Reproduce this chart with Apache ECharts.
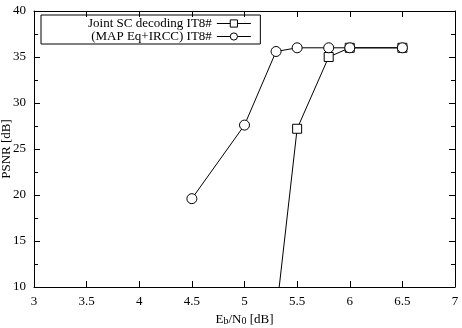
<!DOCTYPE html>
<html>
<head>
<meta charset="utf-8">
<script src="https://cdn.jsdelivr.net/npm/echarts@6/dist/echarts.min.js"></script>
<style>
  html, body { margin: 0; padding: 0; background: #fff; }
  #chart { width: 462px; height: 328px; }
</style>
</head>
<body>
<div id="chart"></div>
<script>
// Eb/N0 [dB] and PSNR [dB]
const seriesNames = ['Joint SC decoding IT8#', '(MAP Eq+IRCC) IT8#'];
const snrJoint = [5.3, 5.5, 5.8, 6, 6.5];
const psnrJoint = [7.0, 27.2, 35.0, 36.0, 36.0];
const snrMap = [4.5, 5, 5.3, 5.5, 5.8, 6, 6.5];
const psnrMap = [19.6, 27.6, 35.6, 36.0, 36.0, 36.0, 36.0];

const font = 'Liberation Serif';
const black = '#000';

function pairs(xs, ys) {
  return xs.map((x, i) => [x, ys[i]]);
}

function xAxisCfg(pos, showLabel) {
  return {
    type: 'value',
    position: pos,
    min: 3,
    max: 7,
    interval: 0.5,
    axisLine: { lineStyle: { color: black, width: 1 } },
    axisTick: { inside: true, length: 6, lineStyle: { color: black } },
    axisLabel: { show: showLabel, color: black, fontFamily: font, fontSize: 13, margin: 8 },
    splitLine: { show: false }
  };
}

function yAxisCfg(pos, showLabel) {
  return {
    type: 'value',
    position: pos,
    min: 10,
    max: 40,
    interval: 5,
    axisLine: { show: true, lineStyle: { color: black, width: 1 } },
    axisTick: { show: true, inside: true, length: 6, lineStyle: { color: black } },
    minorTick: { show: true, splitNumber: 2, length: 4, lineStyle: { color: black } },
    axisLabel: { show: showLabel, color: black, fontFamily: font, fontSize: 13, margin: 8 },
    splitLine: { show: false }
  };
}

const xBottom = xAxisCfg('bottom', true);
xBottom.name = 'E{sub|b}/N{sub|0} [dB]';
xBottom.nameLocation = 'middle';
xBottom.nameGap = 26;
xBottom.nameMoveOverlap = false;
xBottom.nameTextStyle = {
  color: black, fontFamily: font, fontSize: 13,
  rich: {
    sub: { fontFamily: font, fontSize: 10, color: black, verticalAlign: 'bottom', lineHeight: 10, padding: [7, 0, 0, 0] }
  }
};

const yLeft = yAxisCfg('left', true);
yLeft.name = 'PSNR [dB]';
yLeft.nameLocation = 'middle';
yLeft.nameGap = 21;
yLeft.nameMoveOverlap = false;
yLeft.nameTextStyle = { color: black, fontFamily: font, fontSize: 13 };

const markStyle = { color: '#fff', borderColor: black, borderWidth: 1 };

const option = {
  backgroundColor: '#fff',
  animation: false,
  grid: { left: 34, right: 7, top: 11, bottom: 41, outerBoundsMode: 'none', containLabel: false },
  legend: {
    orient: 'vertical',
    left: 41,
    top: 15,
    align: 'right',
    itemWidth: 34,
    itemHeight: 9,
    itemGap: 0,
    padding: [2, 9, 1, 47],
    borderColor: black,
    borderWidth: 1,
    selectedMode: false,
    itemStyle: { color: '#fff', borderColor: black, borderWidth: 1 },
    lineStyle: { color: black, width: 1 },
    textStyle: { color: black, fontFamily: font, fontSize: 13, lineHeight: 11 },
    data: seriesNames
  },
  xAxis: [xBottom, xAxisCfg('top', false)],
  yAxis: [yLeft, yAxisCfg('right', false)],
  series: [
    {
      name: seriesNames[0],
      type: 'line',
      data: pairs(snrJoint, psnrJoint),
      symbol: 'rect',
      symbolSize: 9,
      clip: true,
      itemStyle: markStyle,
      lineStyle: { color: black, width: 1 }
    },
    {
      name: seriesNames[1],
      type: 'line',
      data: pairs(snrMap, psnrMap),
      symbol: 'circle',
      symbolSize: 10,
      clip: true,
      itemStyle: markStyle,
      lineStyle: { color: black, width: 1 }
    }
  ]
};

const chart = echarts.init(document.getElementById('chart'));
chart.setOption(option);
</script>
</body>
</html>
